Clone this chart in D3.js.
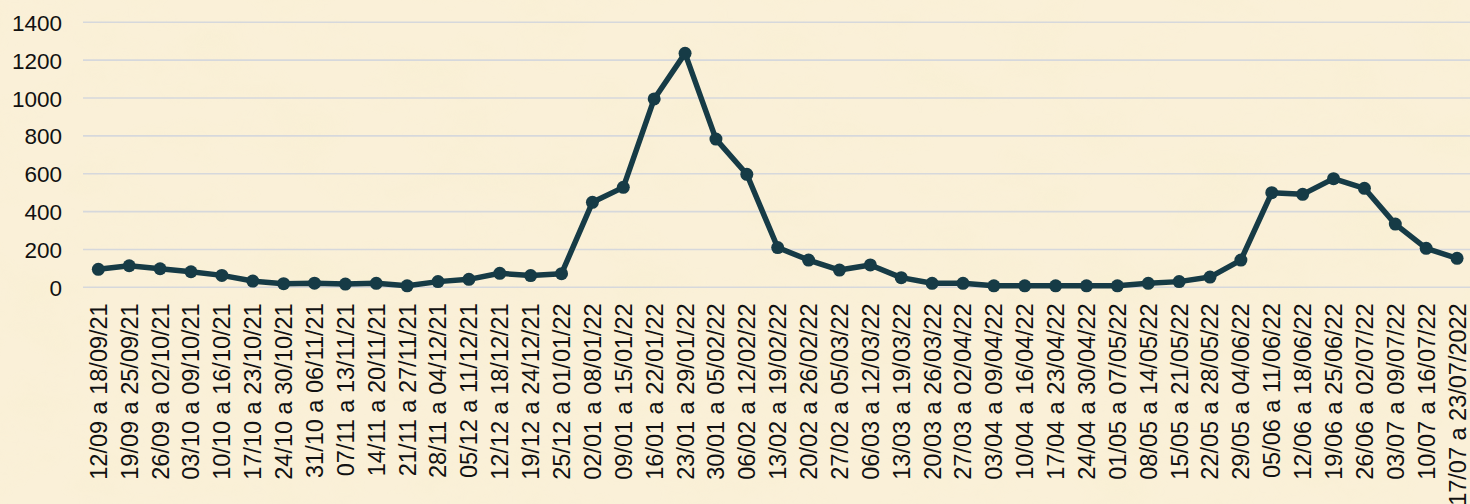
<!DOCTYPE html>
<html><head><meta charset="utf-8">
<script src="https://cdn.jsdelivr.net/npm/d3@7"></script>
<style>html,body{margin:0;padding:0;background:#f8ecd0;overflow:hidden}</style>
</head><body>
<svg id="c" width="1470" height="504"></svg>
<script>
const categories = ["12/09 a 18/09/21","19/09 a 25/09/21","26/09 a 02/10/21","03/10 a 09/10/21","10/10 a 16/10/21","17/10 a 23/10/21","24/10 a 30/10/21","31/10 a 06/11/21","07/11 a 13/11/21","14/11 a 20/11/21","21/11 a 27/11/21","28/11 a 04/12/21","05/12 a 11/12/21","12/12 a 18/12/21","19/12 a 24/12/21","25/12 a 01/01/22","02/01 a 08/01/22","09/01 a 15/01/22","16/01 a 22/01/22","23/01 a 29/01/22","30/01 a 05/02/22","06/02 a 12/02/22","13/02 a 19/02/22","20/02 a 26/02/22","27/02 a 05/03/22","06/03 a 12/03/22","13/03 a 19/03/22","20/03 a 26/03/22","27/03 a 02/04/22","03/04 a 09/04/22","10/04 a 16/04/22","17/04 a 23/04/22","24/04 a 30/04/22","01/05 a 07/05/22","08/05 a 14/05/22","15/05 a 21/05/22","22/05 a 28/05/22","29/05 a 04/06/22","05/06 a 11/06/22","12/06 a 18/06/22","19/06 a 25/06/22","26/06 a 02/07/22","03/07 a 09/07/22","10/07 a 16/07/22","17/07 a 23/07/2022"];
const values = [95,114,98,82,63,33,19,22,17,21,8,30,42,74,62,72,449,528,995,1236,783,597,210,144,91,118,51,21,21,8,8,8,8,8,21,30,54,144,500,491,574,523,334,206,153];
const yTicks = [0,200,400,600,800,1000,1200,1400];

const svg = d3.select("#c");
const W = 1470, H = 504;
const font = "'Liberation Sans', Arial, sans-serif";

// parchment background
const defs = svg.append("defs");
const f = defs.append("filter").attr("id","paper").attr("x",0).attr("y",0).attr("width","100%").attr("height","100%");
f.append("feTurbulence").attr("type","fractalNoise").attr("baseFrequency","0.012 0.02").attr("numOctaves",4).attr("seed",3).attr("result","n");
f.append("feColorMatrix").attr("in","n").attr("type","matrix")
 .attr("values","0 0 0 0 0.93  0 0 0 0 0.86  0 0 0 0 0.62  0 0 0 -1.3 0.72").attr("result","c");
f.append("feComposite").attr("in","c").attr("in2","SourceGraphic").attr("operator","in");
svg.append("rect").attr("width",W).attr("height",H).attr("fill","#faf0d8");
svg.append("rect").attr("width",W).attr("height",H).attr("fill","#fff").attr("filter","url(#paper)").attr("opacity",0.6);

const x = d3.scaleBand().domain(categories).range([82.9, 82.9 + 45*30.88]);
const y = d3.scaleLinear().domain([0,1400]).range([287.3, 22.3]);

// gridlines
svg.append("g").selectAll("line").data(yTicks).join("line")
  .attr("x1", 83).attr("x2", W)
  .attr("y1", d => y(d)).attr("y2", d => y(d))
  .attr("stroke", "#d6d8dc").attr("stroke-width", 1.6);

// y axis labels
const yAxis = svg.append("g").attr("transform","translate(62,0)")
  .call(d3.axisLeft(y).tickValues(yTicks).tickSize(0).tickPadding(0).tickFormat(d3.format("d")));
yAxis.select(".domain").remove();
yAxis.selectAll("text").attr("font-family", font).attr("font-size", 22.5).attr("fill","#111").attr("dy","0.36em");

// x axis labels
const xAxis = svg.append("g").attr("transform","translate(0,287.3)")
  .call(d3.axisBottom(x).tickSize(0).tickPadding(0));
xAxis.select(".domain").remove();
xAxis.selectAll("text")
  .attr("font-family", font).attr("font-size", 23.5).attr("fill","#111")
  .attr("transform","rotate(-90)")
  .attr("text-anchor","end")
  .attr("x", -16).attr("y", 0).attr("dy","0.36em");

// line
const cx = d => x(d) + x.bandwidth()/2;
svg.append("path").datum(values)
  .attr("fill","none").attr("stroke","#163b46").attr("stroke-width",5.5).attr("stroke-linejoin","round")
  .attr("d", d3.line().x((d,i)=>cx(categories[i])).y(d=>y(d)));
svg.append("g").selectAll("circle").data(values).join("circle")
  .attr("cx",(d,i)=>cx(categories[i])).attr("cy",d=>y(d)).attr("r",6.5)
  .attr("fill","#163b46");
</script>
</body></html>
